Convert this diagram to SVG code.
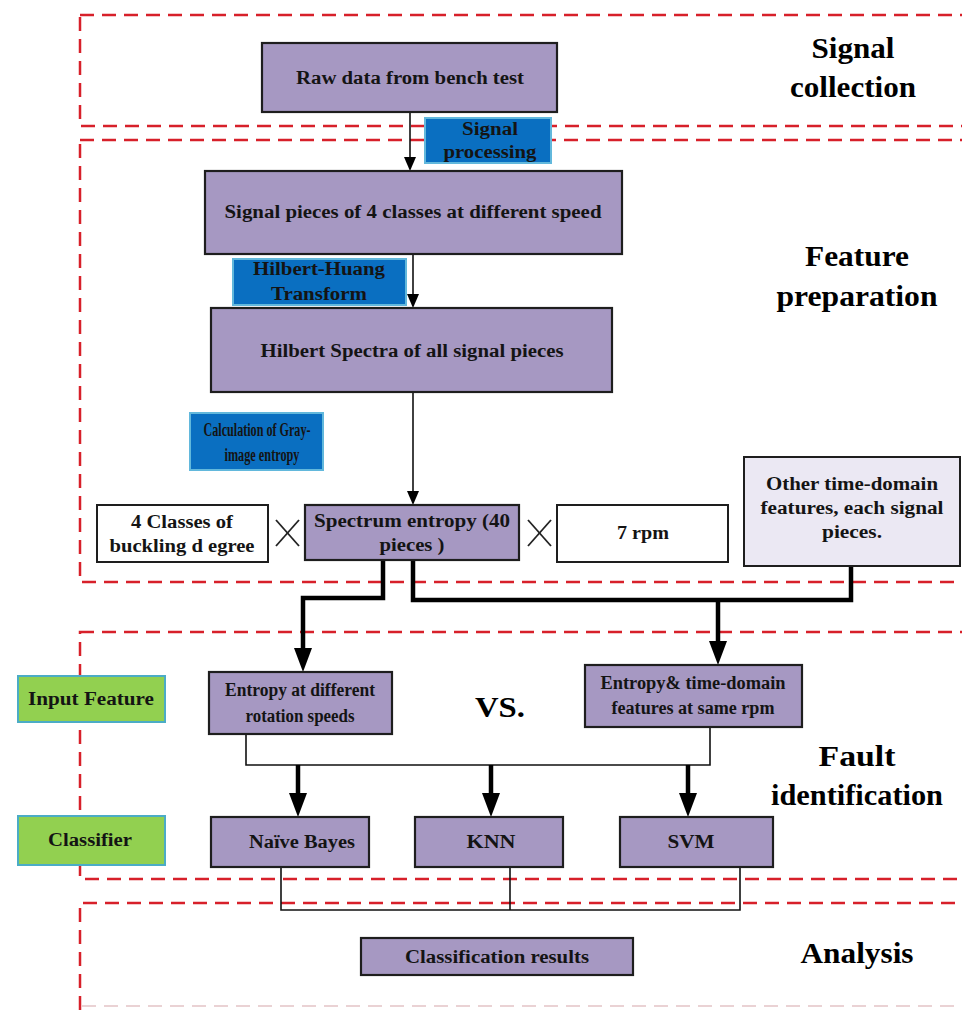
<svg xmlns="http://www.w3.org/2000/svg" width="962" height="1010" viewBox="0 0 962 1010">
<style>
.sec{fill:none;stroke:#d7202a;stroke-width:2.5;stroke-dasharray:14 8}
.faint{fill:none;stroke:#e3c4c6;stroke-width:1.5;stroke-dasharray:14 8}
.box{fill:#a698c2;stroke:#1e1e1e;stroke-width:2.2}
.wbox{fill:#ffffff;stroke:#1e1e1e;stroke-width:2}
.lbox{fill:#ebe8f3;stroke:#1e1e1e;stroke-width:2}
.blue{fill:#0a6fc1;stroke:#62b8dc;stroke-width:2}
.green{fill:#92d050;stroke:#4bacc6;stroke-width:2}
.t{font-family:"Liberation Serif",serif;font-weight:bold;font-size:18.5px;fill:#141414;text-anchor:middle}
.title{font-family:"Liberation Serif",serif;font-weight:bold;font-size:30px;fill:#000;text-anchor:middle}
.thin{fill:none;stroke:#111;stroke-width:1.6}
.thick{fill:none;stroke:#000;stroke-width:4.5}
.x{stroke:#222;stroke-width:1.8}
</style>
<defs>
<marker id="ah" markerUnits="userSpaceOnUse" markerWidth="14" markerHeight="12" refX="0" refY="6" orient="auto" viewBox="0 0 14 12">
<path d="M0,0 L14,6 L0,12 Z" fill="#000"/>
</marker>
<marker id="ahb" markerUnits="userSpaceOnUse" markerWidth="24" markerHeight="18" refX="0" refY="9" orient="auto" viewBox="0 0 24 18">
<path d="M0,0 L24,9 L0,18 Z" fill="#000"/>
</marker>
</defs>

<g id="sections">
<rect class="sec" x="80" y="15" width="920" height="111"/>
<rect class="sec" x="80" y="140" width="920" height="442"/>
<rect class="sec" x="80" y="632" width="920" height="247"/>
<path class="sec" d="M80,1010 V903 H1000"/>
<path class="faint" d="M82,1006 H1000"/>
</g>

<g id="connectors">
<path class="thin" d="M410,112 V157" marker-end="url(#ah)"/>
<path class="thin" d="M413,254 V294" marker-end="url(#ah)"/>
<path class="thin" d="M413,392 V491" marker-end="url(#ah)"/>
<path class="thick" d="M383,560 V598 H303 V648" marker-end="url(#ahb)"/>
<path class="thick" d="M413,560 V600 H851 V566"/>
<path class="thick" d="M718,600 V641" marker-end="url(#ahb)"/>
<path class="thin" d="M246,734 V765 H710 V727"/>
<path class="thick" d="M298,765 V793" marker-end="url(#ahb)"/>
<path class="thick" d="M491,765 V793" marker-end="url(#ahb)"/>
<path class="thick" d="M688,765 V793" marker-end="url(#ahb)"/>
<path class="thin" d="M281,867 V910 H740 V867"/>
<path class="thin" d="M510,867 V910"/>
</g>

<g id="title-signal-collection">
<text class="title" x="853" y="58" textLength="83" lengthAdjust="spacingAndGlyphs">Signal</text>
<text class="title" x="853" y="97" textLength="126" lengthAdjust="spacingAndGlyphs">collection</text>
</g>
<g id="title-feature-preparation">
<text class="title" x="857" y="266" textLength="104" lengthAdjust="spacingAndGlyphs">Feature</text>
<text class="title" x="857" y="306" textLength="161" lengthAdjust="spacingAndGlyphs">preparation</text>
</g>
<g id="title-fault-identification">
<text class="title" x="857" y="766" textLength="77" lengthAdjust="spacingAndGlyphs">Fault</text>
<text class="title" x="857" y="805" textLength="172" lengthAdjust="spacingAndGlyphs">identification</text>
</g>
<g id="title-analysis">
<text class="title" x="857" y="963" textLength="113" lengthAdjust="spacingAndGlyphs">Analysis</text>
</g>

<g id="raw-data">
<rect class="box" x="262" y="43" width="295" height="69"/>
<text class="t" x="410" y="84" textLength="228" lengthAdjust="spacingAndGlyphs">Raw data from bench test</text>
</g>
<g id="signal-processing">
<rect class="blue" x="425" y="118" width="126" height="45"/>
<text class="t" x="490" y="135" textLength="56" lengthAdjust="spacingAndGlyphs">Signal</text>
<text class="t" x="490" y="158" textLength="93" lengthAdjust="spacingAndGlyphs">processing</text>
</g>
<g id="signal-pieces">
<rect class="box" x="205" y="171" width="417" height="83"/>
<text class="t" x="413" y="218" textLength="377" lengthAdjust="spacingAndGlyphs">Signal pieces of 4 classes at different speed</text>
</g>
<g id="hht">
<rect class="blue" x="233" y="259" width="173" height="46"/>
<text class="t" x="319" y="275" textLength="132" lengthAdjust="spacingAndGlyphs">Hilbert-Huang</text>
<text class="t" x="319" y="300" textLength="96" lengthAdjust="spacingAndGlyphs">Transform</text>
</g>
<g id="hilbert-spectra">
<rect class="box" x="211" y="308" width="401" height="84"/>
<text class="t" x="412" y="357" textLength="303" lengthAdjust="spacingAndGlyphs">Hilbert Spectra of all signal pieces</text>
</g>
<g id="gray-entropy">
<rect class="blue" x="190" y="413" width="133" height="57"/>
<text class="t" x="257" y="436" textLength="107" lengthAdjust="spacingAndGlyphs">Calculation of Gray-</text>
<text class="t" x="262" y="461" textLength="75" lengthAdjust="spacingAndGlyphs">image entropy</text>
</g>
<g id="classes">
<rect class="wbox" x="97" y="505" width="171" height="57"/>
<text class="t" x="182" y="528" textLength="102" lengthAdjust="spacingAndGlyphs">4 Classes of</text>
<text class="t" x="182" y="552" textLength="145" lengthAdjust="spacingAndGlyphs">buckling d egree</text>
</g>
<g id="times1">
<line class="x" x1="276" y1="520" x2="299" y2="546"/>
<line class="x" x1="299" y1="520" x2="276" y2="546"/>
</g>
<g id="spectrum-entropy">
<rect class="box" x="305" y="505" width="214" height="55"/>
<text class="t" x="412" y="527" textLength="196" lengthAdjust="spacingAndGlyphs">Spectrum entropy (40</text>
<text class="t" x="412" y="551" textLength="65" lengthAdjust="spacingAndGlyphs">pieces )</text>
</g>
<g id="times2">
<line class="x" x1="528" y1="520" x2="551" y2="546"/>
<line class="x" x1="551" y1="520" x2="528" y2="546"/>
</g>
<g id="rpm">
<rect class="wbox" x="557" y="505" width="171" height="57"/>
<text class="t" x="643" y="539" textLength="52" lengthAdjust="spacingAndGlyphs">7 rpm</text>
</g>
<g id="other-features">
<rect class="lbox" x="744" y="457" width="216" height="109"/>
<text class="t" x="852" y="490" textLength="172" lengthAdjust="spacingAndGlyphs">Other time-domain</text>
<text class="t" x="852" y="514" textLength="183" lengthAdjust="spacingAndGlyphs">features, each signal</text>
<text class="t" x="852" y="538" textLength="60" lengthAdjust="spacingAndGlyphs">pieces.</text>
</g>

<g id="input-feature">
<rect class="green" x="18" y="676" width="147" height="46"/>
<text class="t" x="91" y="705" textLength="126" lengthAdjust="spacingAndGlyphs">Input Feature</text>
</g>
<g id="entropy-speeds">
<rect class="box" x="209" y="672" width="183" height="62"/>
<text class="t" x="300" y="696" textLength="150" lengthAdjust="spacingAndGlyphs">Entropy at different</text>
<text class="t" x="300" y="722" textLength="109" lengthAdjust="spacingAndGlyphs">rotation speeds</text>
</g>
<g id="vs">
<text class="title" x="500" y="717" font-size="26" textLength="50" lengthAdjust="spacingAndGlyphs">VS.</text>
</g>
<g id="entropy-time">
<rect class="box" x="585" y="665" width="217" height="62"/>
<text class="t" x="693" y="689" textLength="185" lengthAdjust="spacingAndGlyphs">Entropy&amp; time-domain</text>
<text class="t" x="693" y="714" textLength="163" lengthAdjust="spacingAndGlyphs">features at same rpm</text>
</g>
<g id="classifier">
<rect class="green" x="18" y="816" width="147" height="49"/>
<text class="t" x="90" y="846" textLength="84" lengthAdjust="spacingAndGlyphs">Classifier</text>
</g>
<g id="naive-bayes">
<rect class="box" x="211" y="817" width="158" height="50"/>
<text class="t" x="302" y="848" textLength="106" lengthAdjust="spacingAndGlyphs">Naïve Bayes</text>
</g>
<g id="knn">
<rect class="box" x="415" y="817" width="148" height="50"/>
<text class="t" x="491" y="848" textLength="49" lengthAdjust="spacingAndGlyphs">KNN</text>
</g>
<g id="svm">
<rect class="box" x="620" y="817" width="153" height="50"/>
<text class="t" x="691" y="848" textLength="47" lengthAdjust="spacingAndGlyphs">SVM</text>
</g>
<g id="results">
<rect class="box" x="361" y="938" width="272" height="37"/>
<text class="t" x="497" y="963" textLength="184" lengthAdjust="spacingAndGlyphs">Classification results</text>
</g>
</svg>
